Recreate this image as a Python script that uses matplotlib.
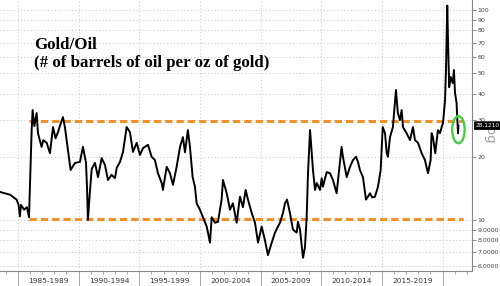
import matplotlib
matplotlib.use("Agg")
import matplotlib.pyplot as plt
from matplotlib.patches import Ellipse
from matplotlib.ticker import FixedLocator, FixedFormatter, MultipleLocator
from matplotlib.transforms import ScaledTranslation

# Gold/Oil ratio (decimal year, barrels per oz)
years = [
    1983.52, 1983.90, 1984.34, 1984.89, 1985.05, 1985.16, 1985.25, 1985.50,
    1985.74, 1985.91, 1986.13, 1986.21, 1986.35, 1986.54, 1986.65, 1986.95,
    1987.09, 1987.37, 1987.64, 1987.89, 1988.10, 1988.30, 1988.50, 1988.71,
    1988.87, 1989.12, 1989.34, 1989.70, 1990.11, 1990.36, 1990.61, 1990.69,
    1990.77, 1990.90, 1991.08, 1991.35, 1991.60, 1991.90, 1992.17, 1992.42,
    1992.72, 1993.00, 1993.14, 1993.41, 1993.66, 1993.96, 1994.23, 1994.48,
    1994.79, 1995.06, 1995.31, 1995.72, 1996.02, 1996.29, 1996.54, 1996.85,
    1996.95, 1997.26, 1997.53, 1997.78, 1998.08, 1998.36, 1998.60, 1998.77,
    1999.01, 1999.18, 1999.40, 1999.59, 1999.73, 2000.00, 2000.25, 2000.56,
    2000.83, 2000.97, 2001.24, 2001.49, 2001.79, 2001.90, 2002.21, 2002.48,
    2002.72, 2003.03, 2003.30, 2003.55, 2003.77, 2003.96, 2004.27, 2004.54,
    2004.79, 2005.09, 2005.36, 2005.61, 2005.92, 2006.19, 2006.43, 2006.60,
    2006.85, 2007.01, 2007.18, 2007.42, 2007.67, 2007.98, 2008.08, 2008.25,
    2008.50, 2008.66, 2008.80, 2008.91, 2009.08, 2009.22, 2009.32, 2009.49,
    2009.63, 2009.90, 2010.04, 2010.14, 2010.45, 2010.72, 2010.97, 2011.27,
    2011.55, 2011.68, 2011.79, 2012.10, 2012.37, 2012.62, 2012.87, 2013.03,
    2013.19, 2013.44, 2013.69, 2013.85, 2014.02, 2014.20, 2014.43, 2014.68,
    2014.90, 2015.07, 2015.26, 2015.40, 2015.50, 2015.67, 2015.91, 2016.16,
    2016.32, 2016.49, 2016.63, 2016.74, 2017.04, 2017.32, 2017.56, 2017.73,
    2017.98, 2018.28, 2018.55, 2018.80, 2019.02, 2019.10, 2019.21, 2019.40,
    2019.52, 2019.62, 2019.79, 2019.93, 2020.04, 2020.21, 2020.29, 2020.39,
    2020.47, 2020.55, 2020.67, 2020.84, 2020.94, 2021.03, 2021.16, 2021.21,
    2021.28, 2021.31,
]
ratio = [
    13.6, 13.4, 13.2, 12.5, 11.8, 10.4, 11.8, 11.2,
    11.5, 10.3, 26.8, 33.4, 28.0, 32.3, 25.9, 22.3,
    24.0, 23.3, 20.8, 27.7, 24.5, 26.2, 28.5, 30.9,
    27.7, 21.5, 17.3, 18.7, 18.9, 22.3, 18.7, 14.4,
    10.0, 12.9, 17.5, 18.7, 16.0, 19.7, 18.3, 15.5,
    16.4, 15.8, 17.7, 18.9, 21.1, 27.7, 26.2, 21.1,
    23.3, 20.4, 22.0, 22.8, 20.0, 19.3, 16.7, 15.0,
    13.9, 17.9, 16.7, 14.7, 17.9, 22.3, 24.8, 21.0,
    26.8, 22.3, 16.0, 14.4, 12.0, 11.2, 10.3, 9.3,
    7.8, 10.3, 9.7, 9.8, 12.5, 15.5, 13.4, 11.2,
    12.0, 9.7, 12.9, 11.5, 13.9, 12.5, 10.8, 9.7,
    7.8, 9.3, 8.0, 6.8, 7.8, 8.7, 9.3, 9.7,
    10.8, 12.0, 12.5, 10.8, 9.0, 8.7, 9.8, 9.0,
    6.6, 7.4, 10.3, 16.7, 26.8, 20.8, 17.3, 13.9,
    15.0, 13.9, 15.8, 14.4, 16.9, 16.7, 15.5, 13.4,
    18.9, 22.3, 20.0, 16.0, 17.9, 19.3, 20.0, 18.9,
    17.3, 16.0, 12.5, 12.9, 13.4, 12.8, 12.9, 14.4,
    17.3, 27.7, 25.9, 20.8, 20.0, 24.8, 27.7, 41.6,
    32.3, 29.9, 33.4, 27.7, 25.9, 24.0, 27.7, 24.0,
    23.3, 20.8, 19.3, 16.7, 19.3, 25.9, 24.8, 20.8,
    24.0, 26.8, 25.9, 27.7, 29.0, 37.3, 53.5, 105.0,
    64.5, 42.9, 48.0, 44.9, 51.8, 40.3, 36.1, 30.9,
    25.9, 28.1210,
]

# reference levels and axis labelling
upper_level = 29.7
lower_level = 10.1
band_start, band_end = 1985.95, 2021.65
y_ticks = [6, 7, 8, 9, 10, 20, 30, 40, 50, 60, 70, 80, 90, 100]
y_tick_labels = ["6.0000", "7.0000", "8.0000", "9.0000", "10", "20", "30",
                 "40", "50", "60", "70", "80", "90", "100"]
period_starts = [1985, 1990, 1995, 2000, 2005, 2010, 2015]
period_labels = ["1985-1989", "1990-1994", "1995-1999", "2000-2004",
                 "2005-2009", "2010-2014", "2015-2019"]
grid_years = [1985, 1990, 1995, 2000, 2005, 2010, 2015, 2020]
last_label = "28.1210"

fig = plt.figure(figsize=(5.0, 2.86), dpi=100)
ax = fig.add_axes([0.0, 0.0524, 0.944, 0.9476])
ax.set_yscale("log")
ax.set_xlim(1983.52, 2022.43)
ax.set_ylim(5.71, 111.7)

grid_kw = dict(color="#c4c4c4", lw=0.7, ls=(0, (1, 2.5)), zorder=0)
for gy in grid_years:
    ax.axvline(gy, **grid_kw)
for t in y_ticks:
    ax.axhline(t, **grid_kw)

# orange support / resistance lines
dash_kw = dict(color="#ef922c", lw=2.2, ls=(0, (2.4, 1.3)), zorder=2)
ax.plot([band_start, band_end], [upper_level, upper_level], **dash_kw)
ax.plot([band_start, band_end], [lower_level, lower_level], **dash_kw)

ax.plot(years, ratio, color="black", lw=1.4, zorder=3)

# right hand log axis
ax.yaxis.tick_right()
ax.yaxis.set_major_locator(FixedLocator(y_ticks))
ax.yaxis.set_major_formatter(FixedFormatter(y_tick_labels))
ax.yaxis.set_minor_locator(FixedLocator([]))
ax.tick_params(axis="y", which="major", length=3, width=0.6, color="#777777",
               labelsize=4.5, labelcolor="#444444", pad=1.0)

# bottom axis: period boundaries + yearly minor ticks
ax.set_xticks(grid_years)
ax.set_xticklabels([])
ax.xaxis.set_minor_locator(MultipleLocator(1))
ax.tick_params(axis="x", which="major", length=11, width=0.6, color="#999999")
ax.tick_params(axis="x", which="minor", length=2, width=0.6, color="#999999")
for start, lab in zip(period_starts, period_labels):
    ax.text(start + 2.5, -0.038, lab, transform=ax.get_xaxis_transform(),
            ha="center", va="center", fontsize=5.3, color="#333333")

for side in ["top", "left"]:
    ax.spines[side].set_visible(False)
for side in ["bottom", "right"]:
    ax.spines[side].set_color("#888888")
    ax.spines[side].set_linewidth(0.8)

# title block
title_kw = dict(family="Liberation Serif", weight="bold", fontsize=12.2,
                color="black", va="baseline", ha="left")
fig.text(34 / 500, 1 - 49 / 286, "Gold/Oil", **title_kw)
fig.text(34 / 500, 1 - 67 / 286, "(# of barrels of oil per oz of gold)", **title_kw)

# last value tag and log marker
ax.text(1.036, ratio[-1] * 0.93, "Log", transform=ax.get_yaxis_transform(),
        rotation=-90, ha="center", va="center", fontsize=9.5, color="#a0a0a0",
        clip_on=False, zorder=5)
ax.text(1.008, ratio[-1], last_label, transform=ax.get_yaxis_transform(),
        ha="left", va="center", fontsize=4.2, color="white", clip_on=False,
        zorder=6,
        bbox=dict(boxstyle="round,pad=0.25,rounding_size=0.15", fc="black",
                  ec="black", lw=0.5))

# green circle highlighting the latest reading
circle_at = fig.dpi_scale_trans + ScaledTranslation(years[-1], ratio[-1], ax.transData)
ax.add_patch(Ellipse((0.0, -0.04), width=0.125, height=0.27,
                     transform=circle_at, fill=False, ec="#45cf45", lw=1.7,
                     zorder=4, clip_on=False))

fig.savefig("out.png", dpi=100)
